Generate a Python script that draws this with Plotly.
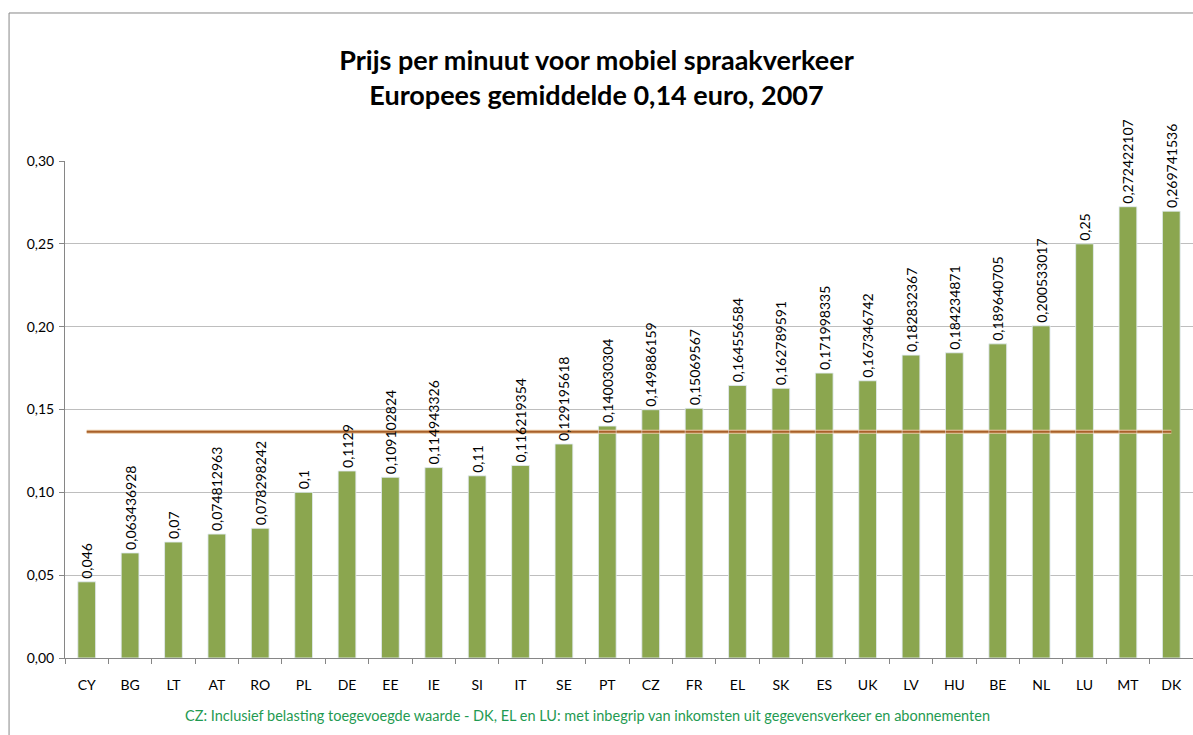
import plotly.graph_objects as go

landen = ["CY", "BG", "LT", "AT", "RO", "PL", "DE", "EE", "IE", "SI", "IT", "SE", "PT",
          "CZ", "FR", "EL", "SK", "ES", "UK", "LV", "HU", "BE", "NL", "LU", "MT", "DK"]
prijs = [0.046, 0.063436928, 0.07, 0.074812963, 0.078298242, 0.1, 0.1129, 0.109102824,
         0.114943326, 0.11, 0.116219354, 0.129195618, 0.140030304, 0.149886159, 0.15069567,
         0.164556584, 0.162789591, 0.171998335, 0.167346742, 0.182832367, 0.184234871,
         0.189640705, 0.200533017, 0.25, 0.272422107, 0.269741536]
label_txt = ["0,046", "0,063436928", "0,07", "0,074812963", "0,078298242", "0,1", "0,1129",
             "0,109102824", "0,114943326", "0,11", "0,116219354", "0,129195618", "0,140030304",
             "0,149886159", "0,15069567", "0,164556584", "0,162789591", "0,171998335",
             "0,167346742", "0,182832367", "0,184234871", "0,189640705", "0,200533017",
             "0,25", "0,272422107", "0,269741536"]
gemiddelde = 0.1365
y_ticks = [0, 0.05, 0.10, 0.15, 0.20, 0.25, 0.30]
y_tick_txt = ["0,00", "0,05", "0,10", "0,15", "0,20", "0,25", "0,30"]

font_naam = "Lato"

fig = go.Figure()
fig.add_trace(go.Bar(x=landen, y=prijs, marker_color="#8BA64F", showlegend=False))
# gemiddelde lijn (lichte rand + bruine kern)
fig.add_trace(go.Scatter(x=landen, y=[gemiddelde] * len(landen), mode="lines",
                         line=dict(color="#E9C9A4", width=4), showlegend=False,
                         hoverinfo="skip"))
fig.add_trace(go.Scatter(x=landen, y=[gemiddelde] * len(landen), mode="lines",
                         line=dict(color="#A8602A", width=2), showlegend=False))
# labels op een overliggende as zodat ze boven de lijn komen
fig.add_trace(go.Bar(x=landen, y=prijs, marker_color="rgba(0,0,0,0)", text=label_txt,
                     textposition="outside", textangle=-90, constraintext="none",
                     textfont=dict(size=14, color="#000000", family=font_naam),
                     cliponaxis=False, showlegend=False, hoverinfo="skip",
                     xaxis="x2", yaxis="y2"))

fig.update_layout(
    width=1193, height=735,
    margin=dict(l=65, r=0, t=161, b=77),
    paper_bgcolor="white", plot_bgcolor="white",
    bargap=0.59,
    font=dict(family=font_naam, size=14, color="#000000"),
    title=dict(text="<b>Prijs per minuut voor mobiel spraakverkeer<br>Europees gemiddelde 0,14 euro, 2007</b>",
               x=0.5, xanchor="center", y=0.905, yanchor="top",
               font=dict(size=27, family=font_naam, color="#000000")),
    xaxis=dict(showline=True, linecolor="#868686", linewidth=1, ticks="outside",
               tickson="boundaries", ticklen=5, tickcolor="#868686",
               ticklabelstandoff=14, tickfont=dict(size=14), showgrid=False),
    yaxis=dict(range=[0, 0.30], tickvals=y_ticks, ticktext=y_tick_txt,
               showline=True, linecolor="#868686", linewidth=1, ticks="outside",
               ticklen=5, tickcolor="#868686", showgrid=True, gridcolor="#BEBEBE",
               gridwidth=1, zeroline=False, ticklabelstandoff=2, tickfont=dict(size=14)),
    xaxis2=dict(overlaying="x", matches="x", visible=False),
    yaxis2=dict(overlaying="y", range=[0, 0.30], visible=False),
)

# kader van het diagram
fig.add_shape(type="line", xref="paper", yref="paper", x0=-0.0496, x1=-0.0496,
              y0=1.2978, y1=-0.2, line=dict(color="#878787", width=1))
fig.add_shape(type="line", xref="paper", yref="paper", x0=-0.0496, x1=1.01,
              y0=1.2978, y1=1.2978, line=dict(color="#878787", width=1))

fig.add_annotation(text="CZ: Inclusief belasting toegevoegde waarde - DK, EL en LU: met inbegrip van inkomsten uit gegevensverkeer en abonnementen",
                   xref="paper", yref="paper", x=0.463, y=-0.115, xanchor="center",
                   yanchor="middle", showarrow=False,
                   font=dict(size=14.5, color="#1F9A52", family=font_naam))

fig.write_html("out.html", config={"displayModeBar": False},
               post_script="document.body.style.margin='0';")
